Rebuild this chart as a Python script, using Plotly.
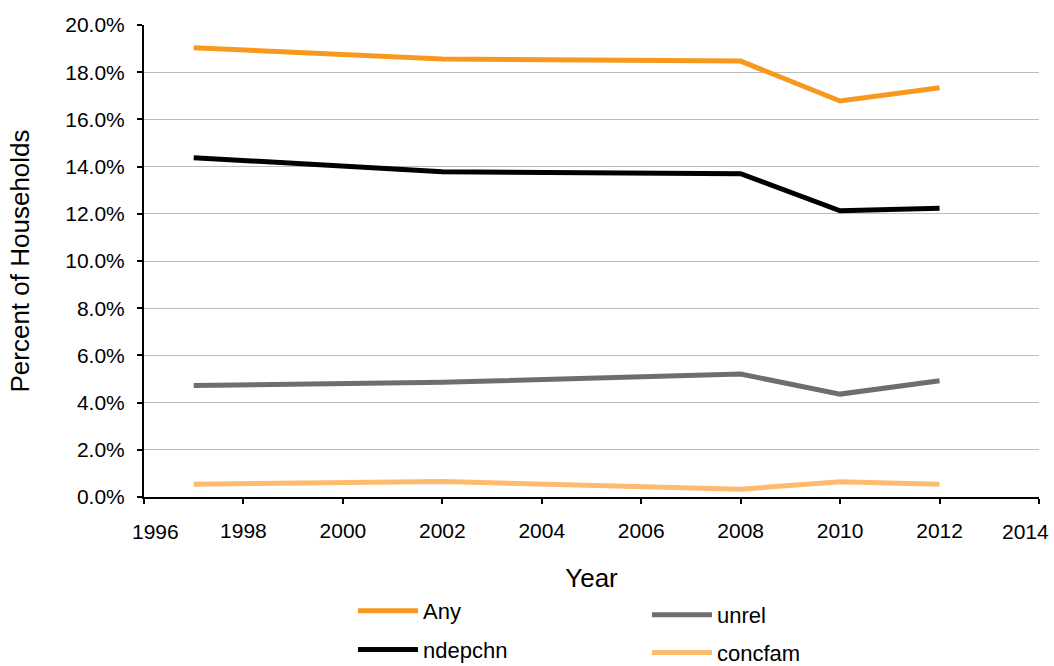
import plotly.graph_objects as go

years = [1997, 2002, 2008, 2010, 2012]
any_share = [19.04, 18.56, 18.47, 16.78, 17.34]
ndepchn_share = [14.38, 13.78, 13.70, 12.13, 12.23]
unrel_share = [4.72, 4.86, 5.21, 4.36, 4.93]
concfam_share = [0.54, 0.66, 0.33, 0.65, 0.54]

series_names = ["Any", "ndepchn", "unrel", "concfam"]
series_values = [any_share, ndepchn_share, unrel_share, concfam_share]
series_colors = ["#F7991F", "#000000", "#6D6E71", "#FDBB6F"]
series_legends = ["legend", "legend", "legend2", "legend2"]

x_ticks = list(range(1996, 2015, 2))
y_ticks = [0, 2, 4, 6, 8, 10, 12, 14, 16, 18, 20]

FONT = "Liberation Sans, Arial, Helvetica, sans-serif"
TICK_SIZE = 21
TITLE_SIZE = 26

fig = go.Figure()
for name, vals, color, leg in zip(series_names, series_values, series_colors, series_legends):
    fig.add_trace(go.Scatter(
        x=years, y=vals, name=name, mode="lines",
        line=dict(color=color, width=5),
        legend=leg, legendgroup=name,
        hoverinfo="skip",
    ))

legend_style = dict(
    orientation="v", yanchor="top", xanchor="left",
    font=dict(family=FONT, size=22, color="#000"),
    bgcolor="rgba(0,0,0,0)",
    itemwidth=60,
)

# the two end-of-axis year labels are pulled inward so they stay on the page
x_ticktext = ["" if v in (x_ticks[0], x_ticks[-1]) else str(v) for v in x_ticks]
edge_labels = [
    dict(x=x_ticks[0], xanchor="left", xshift=-14),
    dict(x=x_ticks[-1], xanchor="right", xshift=12),
]

fig.update_layout(
    width=1054, height=666,
    margin=dict(l=144, r=15, t=25, b=169, autoexpand=False),
    paper_bgcolor="white", plot_bgcolor="white",
    font=dict(family=FONT, size=TICK_SIZE, color="#000"),
    showlegend=True,
    legend=dict(x=0.2335, y=-0.197, tracegroupgap=7, **legend_style),
    legend2=dict(x=0.562, y=-0.2055, tracegroupgap=6, **legend_style),
    xaxis=dict(
        range=[1996, 2014], tickvals=x_ticks, ticktext=x_ticktext,
        tickfont=dict(size=TICK_SIZE),
        showline=True, linecolor="#000", linewidth=2,
        ticks="outside", ticklen=5, tickwidth=2, tickcolor="#000",
        ticklabelstandoff=9,
        showgrid=False, zeroline=False,
        title=dict(text="Year", font=dict(size=TITLE_SIZE), standoff=28),
    ),
    yaxis=dict(
        range=[0, 20], tickvals=y_ticks,
        ticktext=[f"{v:.1f}%" for v in y_ticks],
        tickfont=dict(size=TICK_SIZE),
        showline=True, linecolor="#000", linewidth=2,
        ticks="outside", ticklen=5, tickwidth=2, tickcolor="#000",
        ticklabelstandoff=8,
        showgrid=True, gridcolor="#BDBDBD", gridwidth=1,
        zeroline=False,
        title=dict(text="Percent of Households", font=dict(size=TITLE_SIZE), standoff=28),
    ),
)

for lab in edge_labels:
    fig.add_annotation(
        x=lab["x"], xref="x", y=0, yref="paper",
        text=str(lab["x"]), showarrow=False,
        xanchor=lab["xanchor"], xshift=lab["xshift"],
        yanchor="middle", yshift=-34,
        font=dict(family=FONT, size=TICK_SIZE, color="#000"),
    )

fig.write_html("out.html")
